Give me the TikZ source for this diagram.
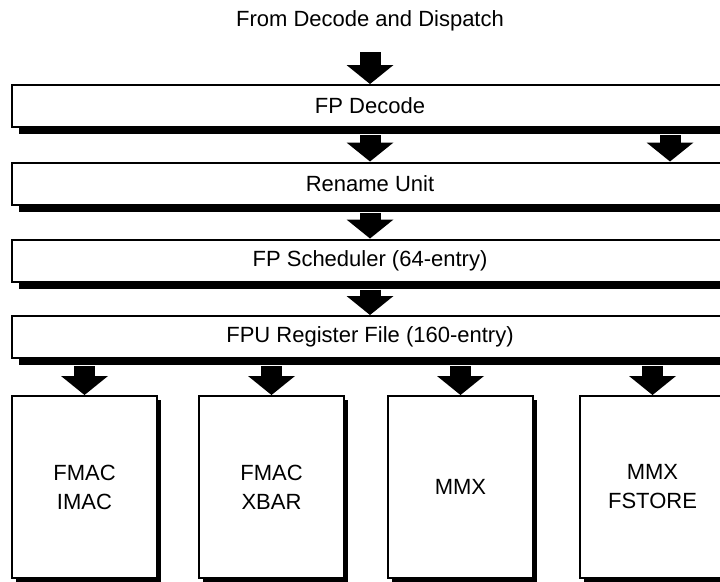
\documentclass[tikz,border=0pt]{standalone}
\usepackage{fontspec}
\setmainfont{Liberation Sans}
\usetikzlibrary{calc}
\usetikzlibrary{shadows}
\usetikzlibrary{arrows.meta}
\tikzset{
  blocktext/.style={font=\fontsize{22}{29}\selectfont, align=center},
  stage/.style={draw, line width=2pt, fill=white, blocktext, inner sep=0pt,
    minimum width=716pt, minimum height=42pt,
    drop shadow={shadow xshift=7pt, shadow yshift=-7pt, fill=black, opacity=1}},
  unit/.style={draw, line width=2pt, fill=white, blocktext, inner sep=0pt,
    minimum width=145pt, minimum height=182pt,
    drop shadow={shadow xshift=4pt, shadow yshift=-4pt, fill=black, opacity=1}},
  fat/.style={line width=21pt, -{Triangle[width=47pt,length=19pt,line width=0pt]}}
}
\newcommand{\stagebar}[3]{\node[stage] (#1) at (370,#2) {#3};}
\newcommand{\unitbox}[3]{\node[unit] (#1) at (#2,487) {#3};}
\newcommand{\fatarrow}[2]{\draw[fat] (#1) -- (#2);}
\begin{document}
\begin{tikzpicture}[x=1pt,y=-1pt]
        \useasboundingbox (0,0) rectangle (720,581);
        \clip (0,0) rectangle (720,581);
        % input label
        \node[blocktext] (source) at (370,21) {From Decode and Dispatch};
        \coordinate (feed) at (370,52);

        % pipeline stages
        \stagebar{decode}{106}{FP Decode}
        \stagebar{rename}{183.5}{Rename Unit}
        \stagebar{sched}{260.5}{FP Scheduler (64-entry)}
        \stagebar{regfile}{337}{FPU Register File (160-entry)}

        % execution units
        \unitbox{fmac}{84.5}{FMAC\\IMAC}
        \unitbox{fmacx}{271.5}{FMAC\\XBAR}
        \unitbox{mmx}{460.5}{MMX}
        \unitbox{mmxst}{652.5}{MMX\\FSTORE}

        % shadow edges
        \coordinate (decshadow) at ($(decode.south)+(0,7)$);
        \coordinate (renshadow) at ($(rename.south)+(0,7)$);
        \coordinate (schshadow) at ($(sched.south)+(0,7)$);
        \coordinate (rfshadow) at ($(regfile.south)+(0,7)$);
        \coordinate (side) at (670,0);

        % arrows
        \fatarrow{feed}{decode.north}
        \fatarrow{decshadow}{rename.north}
        \fatarrow{side |- decshadow}{side |- rename.north}
        \fatarrow{renshadow}{sched.north}
        \fatarrow{schshadow}{regfile.north}
        \fatarrow{fmac.north |- rfshadow}{fmac.north}
        \fatarrow{fmacx.north |- rfshadow}{fmacx.north}
        \fatarrow{mmx.north |- rfshadow}{mmx.north}
        \fatarrow{mmxst.north |- rfshadow}{mmxst.north}
\end{tikzpicture}
\end{document}
